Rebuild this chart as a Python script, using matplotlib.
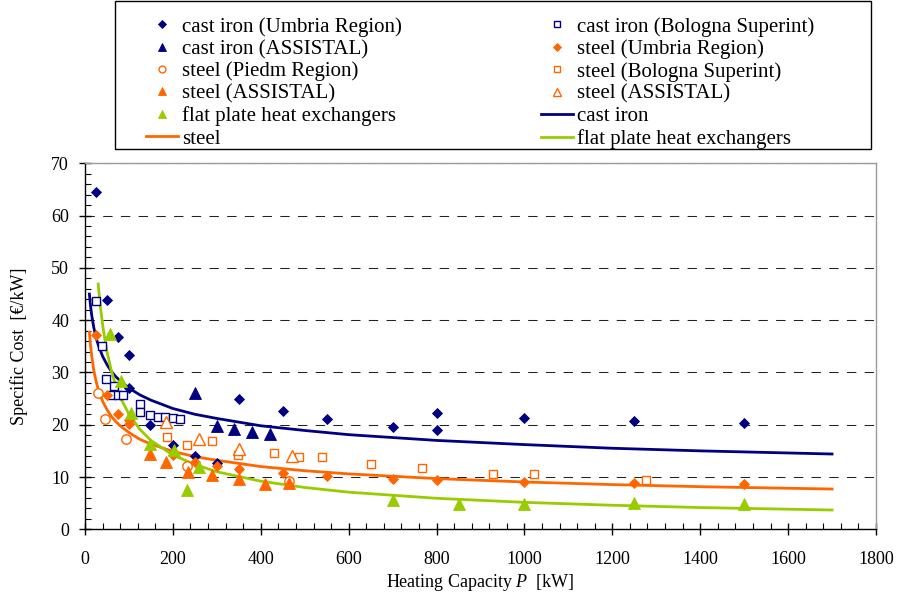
import matplotlib
matplotlib.use("Agg")
import matplotlib.pyplot as plt
from matplotlib.patches import Rectangle
from matplotlib.ticker import MultipleLocator

plt.rcParams['font.family'] = ['Liberation Serif', 'DejaVu Serif']
plt.rcParams['mathtext.fontset'] = 'custom'
plt.rcParams['mathtext.rm'] = 'Liberation Serif'
plt.rcParams['mathtext.it'] = 'Liberation Serif:italic'

NAVY = '#000080'
ORANGE = '#FF6600'
GREEN = '#99CC00'

# measured points (heating capacity kW, specific cost EUR/kW)
ci_umbria_x = [24, 51, 76, 101, 101, 149, 201, 250, 301, 351, 450, 550, 700, 800, 800, 1000, 1250, 1500]
ci_umbria_y = [64.6, 43.9, 36.8, 33.3, 27.1, 19.9, 16.1, 14.0, 12.6, 24.9, 22.6, 21.0, 19.5, 22.3, 18.9, 21.2, 20.7, 20.3]

ci_bologna_x = [24, 38, 48, 66, 61, 74, 87, 125, 125, 148, 165, 182, 200, 216]
ci_bologna_y = [43.7, 35.1, 28.7, 27.5, 25.7, 25.7, 25.7, 24.0, 22.5, 21.9, 21.5, 21.4, 21.2, 21.1]

ci_assistal_x = [250, 300, 340, 381, 420]
ci_assistal_y = [26.0, 19.8, 19.1, 18.7, 18.2]

st_umbria_x = [24, 51, 74, 100, 100, 201, 250, 301, 351, 450, 550, 700, 800, 1000, 1250, 1500]
st_umbria_y = [37.2, 25.7, 22.0, 20.9, 20.2, 14.2, 12.9, 12.1, 11.5, 10.7, 10.2, 9.7, 9.4, 9.0, 8.8, 8.6]

st_piedm_x = [29, 45, 93, 233, 465]
st_piedm_y = [26.1, 21.0, 17.2, 12.1, 9.3]

st_bologna_x = [186, 233, 290, 349, 430, 488, 540, 651, 766, 929, 1022, 1277]
st_bologna_y = [17.7, 16.1, 16.8, 14.2, 14.5, 13.9, 13.8, 12.5, 11.8, 10.6, 10.5, 9.5]

st_assistal_x = [148, 184, 234, 290, 350, 410, 465]
st_assistal_y = [14.4, 12.9, 11.0, 10.3, 9.6, 8.7, 8.8]

st_assistal2_x = [184, 260, 350, 470]
st_assistal2_y = [20.6, 17.2, 15.3, 14.1]

flat_x = [58, 81, 104, 148, 203, 260, 233, 700, 850, 1000, 1250, 1500]
flat_y = [37.3, 28.4, 22.2, 16.4, 15.2, 11.9, 7.5, 5.6, 4.9, 4.9, 5.0, 4.9]

# trend lines
trend_x = [10, 12, 15, 20, 25, 30, 40, 50, 60, 70, 80, 100, 125, 150, 200, 250, 300,
           400, 500, 600, 800, 1000, 1200, 1400, 1700]
ci_trend = [45.0, 43.2, 41.1, 38.6, 36.7, 35.3, 33.1, 31.5, 30.2, 29.2, 28.4, 27.0, 25.7, 24.7,
            23.1, 22.0, 21.2, 19.8, 18.9, 18.1, 17.0, 16.2, 15.5, 15.0, 14.4]
st_trend = [37.7, 35.6, 33.3, 30.4, 28.4, 26.8, 24.5, 22.9, 21.6, 20.6, 19.8, 18.5, 17.2, 16.3,
            14.9, 13.9, 13.2, 12.0, 11.2, 10.6, 9.7, 9.05, 8.55, 8.15, 7.7]
flat_trend_x = [30, 35, 40, 45, 50, 60, 70, 80, 100, 125, 150, 200, 250, 300, 400, 500, 600,
                800, 1000, 1200, 1400, 1700]
flat_trend = [46.9, 42.6, 39.2, 36.4, 34.0, 30.3, 27.5, 25.3, 22.0, 19.1, 17.0, 14.2, 12.4, 11.0,
              9.2, 8.0, 7.1, 5.93, 5.15, 4.6, 4.16, 3.69]

fig = plt.figure(figsize=(8.98, 5.99), dpi=100)
ax = fig.add_axes([85 / 898, 1 - 529.3 / 599, 791 / 898, 366 / 599])

lw = 2.0
l_ci, = ax.plot(trend_x, ci_trend, color=NAVY, lw=lw, label='cast iron')
l_st, = ax.plot(trend_x, st_trend, color=ORANGE, lw=lw, label='steel')
l_fl, = ax.plot(flat_trend_x, flat_trend, color=GREEN, lw=lw, label='flat plate heat exchangers')

def pts(x, y, marker, color, size, label, filled=True):
    face = color if filled else 'white'
    h, = ax.plot(x, y, linestyle='none', marker=marker, markersize=size,
                 markerfacecolor=face, markeredgecolor=color,
                 markeredgewidth=0.6 if filled else 1.0, label=label)
    return h

h0 = pts(ci_umbria_x, ci_umbria_y, 'D', NAVY, 5.6, 'cast iron (Umbria Region)')
h1 = pts(ci_bologna_x, ci_bologna_y, 's', NAVY, 6.3, 'cast iron (Bologna Superint)', False)
h2 = pts(ci_assistal_x, ci_assistal_y, '^', NAVY, 8, 'cast iron (ASSISTAL)')
h3 = pts(st_umbria_x, st_umbria_y, 'D', ORANGE, 5.6, 'steel (Umbria Region)')
h4 = pts(st_piedm_x, st_piedm_y, 'o', ORANGE, 6.8, 'steel (Piedm Region)', False)
h5 = pts(st_bologna_x, st_bologna_y, 's', ORANGE, 6.3, 'steel (Bologna Superint)', False)
h6 = pts(st_assistal_x, st_assistal_y, '^', ORANGE, 8, 'steel (ASSISTAL)')
h7 = pts(st_assistal2_x, st_assistal2_y, '^', ORANGE, 8, 'steel (ASSISTAL)', False)
h8 = pts(flat_x, flat_y, '^', GREEN, 8, 'flat plate heat exchangers')

ax.set_xlim(0, 1800)
ax.set_ylim(0, 70)
ax.xaxis.set_major_locator(MultipleLocator(200))
ax.xaxis.set_minor_locator(MultipleLocator(40))
ax.yaxis.set_major_locator(MultipleLocator(10))
ax.yaxis.set_minor_locator(MultipleLocator(2))
ax.tick_params(which='major', direction='inout', length=9, width=1, labelsize=13)
ax.tick_params(axis='x', which='major', pad=11)
ax.tick_params(axis='y', which='major', pad=7)
ax.tick_params(which='minor', direction='in', length=4, width=0.8)

ax.grid(True, axis='y', which='major', linestyle=(0, (9, 8)), color='#222222', lw=0.75)
ax.set_axisbelow(True)
for s in ['left', 'bottom']:
    ax.spines[s].set_color('black')
    ax.spines[s].set_linewidth(1.0)
for s in ['top', 'right']:
    ax.spines[s].set_color('#9a9a9a')
    ax.spines[s].set_linewidth(1.0)

ax.set_xlabel('Heating Capacity $P$  [kW]', fontsize=13)
ax.set_ylabel('Specific Cost  [\u20ac/kW]', fontsize=13)
ax.xaxis.set_label_coords(0.5, -0.117)
ax.yaxis.set_label_coords(-0.072, 0.5)

# legend frame
fig.patches.append(Rectangle((115 / 898, 1 - 149 / 599), 756 / 898, 148 / 599,
                             transform=fig.transFigure, fill=False, edgecolor='black', lw=1.0))

rows = [h0, h1, h2, h3, h4, h5, h6, h7, h8, l_ci, l_st, l_fl]
handles = rows[0::2] + rows[1::2]
fig.legend(handles, [h.get_label() for h in handles], loc='upper left',
           bbox_to_anchor=(146 / 898, 1 - 17 / 599), bbox_transform=fig.transFigure,
           ncol=2, frameon=False, borderpad=0, borderaxespad=0, fontsize=15,
           handlelength=1.54, handletextpad=0.2, columnspacing=6.65, labelspacing=0.13,
           markerscale=0.72, numpoints=1)

fig.savefig('out.png', dpi=100)
